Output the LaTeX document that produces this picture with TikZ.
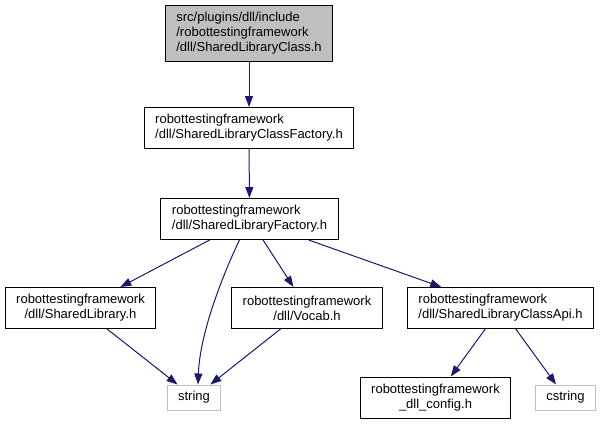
\documentclass[tikz,border=0pt]{standalone}
\usepackage{fontspec}
\setmainfont{Liberation Sans}
\usepackage{xcolor}
\usetikzlibrary{arrows.meta}

\definecolor{edgeblue}{HTML}{191970}
\definecolor{boxgray}{HTML}{BFBFBF}

\begin{document}
\begin{tikzpicture}[x=1pt, y=-1pt,
    file/.style={rectangle, draw=black, line width=1pt, fill=white, inner xsep=11pt, inner ysep=0pt, font=\fontsize{13}{15}\selectfont},
    twoline/.style={file, minimum height=41pt},
    sysfile/.style={file, draw=boxgray, minimum height=25pt},
    ar/.style={-{Triangle[length=11pt, width=8pt]}, line width=1pt, draw=edgeblue}]

\useasboundingbox (0,0) rectangle (602,424);

% Nodes
\node[file, fill=boxgray, minimum height=56pt, align=left] (cls) at (249,33) {src/plugins/dll/include\\/robottestingframework\\/dll/SharedLibraryClass.h};
\node[twoline, align=left] (clsfac) at (249,128) {robottestingframework\\/dll/SharedLibraryClassFactory.h};
\node[twoline, align=left] (libfac) at (249.5,219) {robottestingframework\\/dll/SharedLibraryFactory.h};
\node[twoline, align=center] (lib) at (80.5,308) {robottestingframework\\/dll/SharedLibrary.h};
\node[twoline, align=center] (vocab) at (307,308) {robottestingframework\\/dll/Vocab.h};
\node[twoline, align=left] (api) at (500.5,308) {robottestingframework\\/dll/SharedLibraryClassApi.h};
\node[sysfile] (str) at (194,397.5) {string};
\node[twoline, align=center] (cfg) at (435.5,397.5) {robottestingframework\\\_dll\_config.h};
\node[sysfile] (cstr) at (565.5,397.5) {cstring};

% Arrows
\draw[ar] (cls) -- (clsfac);
\draw[ar] (clsfac) -- (libfac);
\draw[ar] (libfac) -- (lib);
\draw[ar] ([xshift=-10pt]libfac.south) .. controls (226,268) and (200,330) .. ([xshift=4pt]str.north);
\draw[ar] (libfac) -- (vocab);
\draw[ar] (libfac) -- (api);
\draw[ar] (lib) -- (str);
\draw[ar] (vocab) -- (str);
\draw[ar] (api) -- (cfg);
\draw[ar] (api) -- (cstr);

\end{tikzpicture}
\end{document}
